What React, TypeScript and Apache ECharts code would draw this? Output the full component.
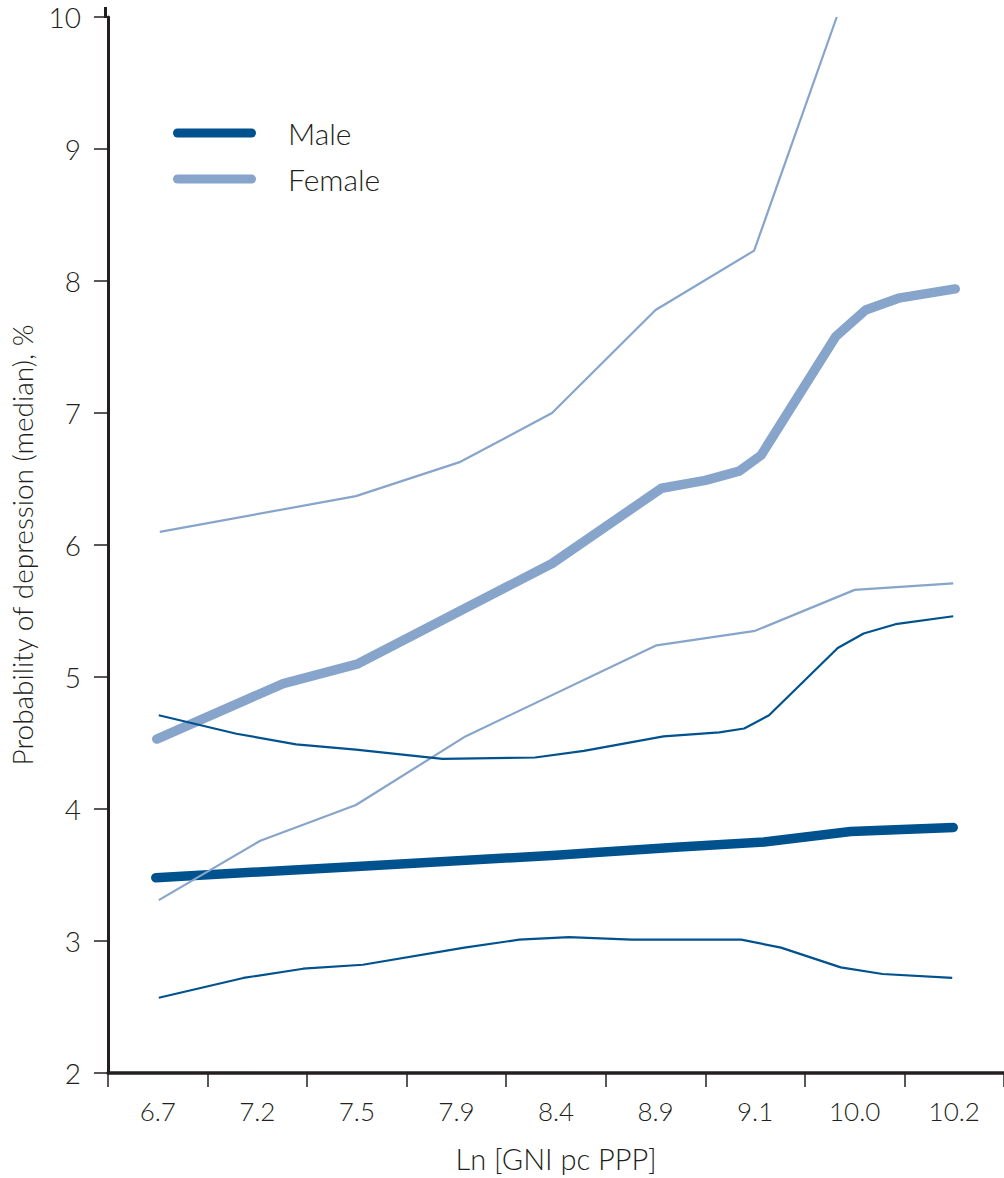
import React, { useEffect, useRef } from "react";
import * as echarts from "echarts";

// Category tick labels (Ln GNI per capita PPP)
const categories = ["6.7", "7.2", "7.5", "7.9", "8.4", "8.9", "9.1", "10.0", "10.2"];

// Positions along the x axis are expressed in category units (0 = left edge, 9 = right edge)
const femaleMedian: [number, number][] = [
  [0.49, 4.53], [1.76, 4.95], [2.51, 5.10], [4.46, 5.86], [5.56, 6.43], [6.0, 6.49],
  [6.34, 6.56], [6.56, 6.68], [7.31, 7.58], [7.61, 7.78], [7.94, 7.87], [8.51, 7.94],
];
const femaleUpper: [number, number][] = [
  [0.52, 6.10], [2.49, 6.37], [3.54, 6.63], [4.46, 7.00], [5.50, 7.78], [6.49, 8.23], [7.32, 10.0],
];
const femaleLower: [number, number][] = [
  [0.51, 3.31], [1.53, 3.76], [2.49, 4.03], [3.59, 4.55], [5.51, 5.24], [6.50, 5.35],
  [7.50, 5.66], [8.49, 5.71],
];
const maleMedian: [number, number][] = [
  [0.48, 3.48], [2.5, 3.565], [4.5, 3.65], [4.9, 3.67], [5.7, 3.71], [6.59, 3.75],
  [7.46, 3.83], [8.49, 3.86],
];
const maleUpper: [number, number][] = [
  [0.51, 4.71], [1.29, 4.57], [1.89, 4.49], [2.49, 4.45], [3.36, 4.38], [4.29, 4.39],
  [4.78, 4.44], [5.58, 4.55], [6.14, 4.58], [6.39, 4.61], [6.64, 4.71], [7.33, 5.22],
  [7.59, 5.33], [7.91, 5.40], [8.49, 5.46],
];
const maleLower: [number, number][] = [
  [0.51, 2.57], [1.36, 2.72], [1.96, 2.79], [2.56, 2.82], [3.58, 2.95], [4.13, 3.01],
  [4.63, 3.03], [5.26, 3.01], [6.36, 3.01], [6.76, 2.95], [7.36, 2.80], [7.78, 2.75],
  [8.48, 2.72],
];

const MALE = "#00528e";
const FEMALE = "#87a4cb";
const TEXT = "#231f20";
const FONT = "Lato, 'Open Sans', sans-serif";

export default function App() {
  const ref = useRef<HTMLDivElement>(null);

  useEffect(() => {
    if (!ref.current) return;
    const chart = echarts.init(ref.current, undefined, { renderer: "svg" });

    const thick = (name: string, color: string, data: [number, number][]) => ({
      name,
      type: "line",
      xAxisIndex: 1,
      data,
      showSymbol: false,
      symbol: "none",
      itemStyle: { color },
      lineStyle: { color, width: 9.5, cap: "round", join: "round" },
      z: 2,
    });
    const thin = (name: string, color: string, data: [number, number][]) => ({
      name,
      type: "line",
      xAxisIndex: 1,
      data,
      showSymbol: false,
      symbol: "none",
      itemStyle: { color },
      lineStyle: { color, width: 2.2, join: "round" },
      z: 3,
    });

    const capsule = "path://M4.5,0 H78.5 A4.5,4.5 0 0 1 78.5,9 H4.5 A4.5,4.5 0 0 1 4.5,0 Z";

    chart.setOption({
      animation: false,
      backgroundColor: "#ffffff",
      textStyle: { fontFamily: FONT },
      grid: { left: 104, top: 17, width: 900, height: 1056, containLabel: false },
      graphic: [
        {
          type: "line",
          shape: { x1: 105.5, y1: 7, x2: 105.5, y2: 18 },
          style: { stroke: TEXT, lineWidth: 3 },
        },
      ],
      legend: {
        orient: "vertical",
        left: 173,
        top: 118,
        padding: 0,
        itemWidth: 83,
        itemHeight: 9,
        itemGap: 16,
        icon: capsule,
        selectedMode: false,
        itemStyle: { borderWidth: 0 },
        textStyle: {
          fontSize: 30,
          color: TEXT,
          fontFamily: FONT,
          fontWeight: 300,
          lineHeight: 30,
          padding: [0, 0, 0, 27],
        },
        data: [
          { name: "Male", itemStyle: { color: MALE, borderWidth: 0 } },
          { name: "Female", itemStyle: { color: FEMALE, borderWidth: 0 } },
        ],
      },
      xAxis: [
        {
          type: "category",
          data: categories,
          boundaryGap: true,
          position: "bottom",
          name: "Ln [GNI pc PPP]",
          nameLocation: "middle",
          nameGap: 71,
          nameTextStyle: { fontSize: 29, color: TEXT, fontFamily: FONT, fontWeight: 300 },
          axisLine: { show: true, lineStyle: { color: TEXT, width: 3.5 } },
          axisTick: { show: true, length: 14, interval: 0, lineStyle: { color: TEXT, width: 1.5 } },
          axisLabel: { interval: 0, margin: 25, fontSize: 26, color: TEXT, fontFamily: FONT, fontWeight: 300 },
          splitLine: { show: false },
        },
        {
          type: "value",
          min: 0,
          max: 9,
          show: false,
          position: "bottom",
        },
      ],
      yAxis: {
        type: "value",
        min: 2,
        max: 10,
        interval: 1,
        name: "Probability of depression (median), %",
        nameLocation: "middle",
        nameRotate: 90,
        nameGap: 72,
        nameTextStyle: { fontSize: 28, color: TEXT, fontFamily: FONT, fontWeight: 300 },
        axisLine: { show: true, lineStyle: { color: TEXT, width: 3 } },
        axisTick: { show: true, length: 14, lineStyle: { color: TEXT, width: 1.5 } },
        axisLabel: {
          margin: 27,
          fontSize: 28,
          lineHeight: 24,
          color: TEXT,
          fontFamily: FONT,
          fontWeight: 300,
        },
        splitLine: { show: false },
      },
      series: [
        thick("Female", FEMALE, femaleMedian),
        thick("Male", MALE, maleMedian),
        thin("Female upper bound", FEMALE, femaleUpper),
        thin("Female lower bound", FEMALE, femaleLower),
        thin("Male upper bound", MALE, maleUpper),
        thin("Male lower bound", MALE, maleLower),
      ],
    });

    return () => chart.dispose();
  }, []);

  return (
    <div
      ref={ref}
      style={{ position: "absolute", left: 0, top: 0, width: 1004, height: 1178, background: "#fff" }}
    />
  );
}
